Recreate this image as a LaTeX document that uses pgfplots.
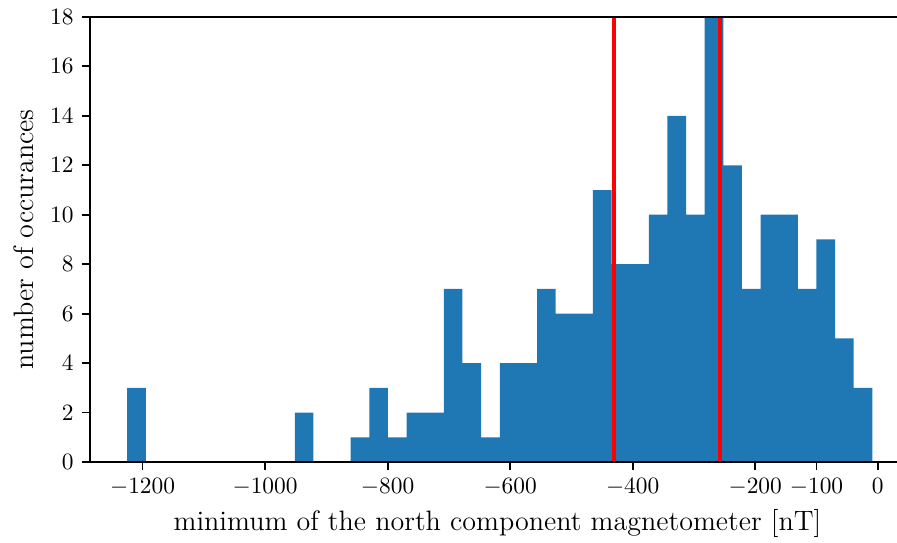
\documentclass[border=0pt]{standalone}
\usepackage{pgfplots}
\pgfplotsset{compat=1.18}
\definecolor{histblue}{HTML}{1F77B4}

\begin{document}
\begin{tikzpicture}
\begin{axis}[
  scale only axis,
  width=344.9pt, height=190.2pt,
  xmin=-1285.8, xmax=31.5,
  ymin=0, ymax=18,
  axis x line*=box, axis y line*=left,
  axis line style={line width=0.8pt},
  tick align=outside, tick pos=left,
  major tick length=3.5pt,
  every tick/.style={line width=0.8pt, black},
  xtick={-1200,-1000,-800,-600,-400,-200,-100,0},
  ytick={0,2,...,18},
  /pgf/number format/1000 sep={},
  xlabel={minimum of the north component magnetometer [nT]},
  ylabel={number of occurances},
  label style={font=\fontsize{12}{14}\selectfont},
  xlabel style={xshift=1.7pt, yshift=1pt},
  axis on top,
  clip=true,
]
% histogram counts, 40 equal bins (left edges, last row closes the interval)
\addplot[ybar interval, fill=histblue, draw=none] coordinates {
  (-1225,3) (-1194.6,0) (-1164.2,0) (-1133.8,0) (-1103.4,0)
  (-1073,0) (-1042.6,0) (-1012.2,0) (-981.8,0) (-951.4,2)
  (-921,0) (-890.6,0) (-860.2,1) (-829.8,3) (-799.4,1)
  (-769,2) (-738.6,2) (-708.2,7) (-677.8,4) (-647.4,1)
  (-617,4) (-586.6,4) (-556.2,7) (-525.8,6) (-495.4,6)
  (-465,11) (-434.6,8) (-404.2,8) (-373.8,10) (-343.4,14)
  (-313,10) (-282.6,18) (-252.2,12) (-221.8,7) (-191.4,10)
  (-161,10) (-130.6,7) (-100.2,9) (-69.8,5) (-39.4,3)
  (-9,3)
};
% reference lines
\addplot[red, line width=1.5pt] coordinates {(-430.5,0) (-430.5,18)};
\addplot[red, line width=1.5pt] coordinates {(-257.5,0) (-257.5,18)};
\end{axis}
\pgfresetboundingbox
\path[use as bounding box] (-38.46pt,-34.19pt) rectangle (344.87pt,197.44pt);
\end{tikzpicture}
\end{document}
